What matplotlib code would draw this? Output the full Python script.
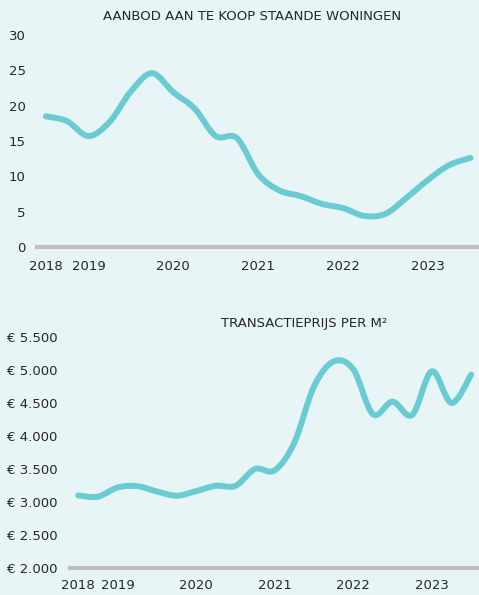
import matplotlib.pyplot as plt
import numpy as np
from matplotlib.path import Path
from matplotlib.patches import PathPatch

# Data (kwartalen, 2018 Q3 t/m 2023 Q3)
kwartaal = list(range(21))

aanbod = [18.5, 17.8, 15.7, 17.7, 22.0, 24.6, 21.9, 19.6, 15.7, 15.4, 10.3,
          8.0, 7.2, 6.1, 5.5, 4.4, 4.7, 7.0, 9.5, 11.6, 12.6]

prijs = [3100, 3080, 3220, 3240, 3160, 3095, 3165, 3245, 3245, 3500, 3480,
         3900, 4750, 5130, 5010, 4330, 4520, 4320, 4980, 4500, 4930]

jaar_pos = [0, 2, 6, 10, 14, 18]
jaar_lbl = ['2018', '2019', '2020', '2021', '2022', '2023']

aanbod_ticks = [0, 5, 10, 15, 20, 25, 30]
prijs_ticks = [2000, 2500, 3000, 3500, 4000, 4500, 5000, 5500]
prijs_lbl = ['€ 2.000', '€ 2.500', '€ 3.000', '€ 3.500',
             '€ 4.000', '€ 4.500', '€ 5.000', '€ 5.500']

bg = '#E8F5F7'
lijn = '#6BCBD2'
tekst = '#262626'


def smooth_path(x, y):
    # gladde lijn zoals Excel: Bezier door alle punten
    x = np.asarray(x, float)
    y = np.asarray(y, float)
    n = len(x)
    verts = [(x[0], y[0])]
    codes = [Path.MOVETO]
    for i in range(n - 1):
        i0 = max(i - 1, 0)
        i3 = min(i + 2, n - 1)
        c1 = (x[i] + (x[i + 1] - x[i0]) / 6, y[i] + (y[i + 1] - y[i0]) / 6)
        c2 = (x[i + 1] - (x[i3] - x[i]) / 6, y[i + 1] - (y[i3] - y[i]) / 6)
        verts += [c1, c2, (x[i + 1], y[i + 1])]
        codes += [Path.CURVE4] * 3
    return Path(verts, codes)


fig = plt.figure(figsize=(4.79, 5.95), dpi=100, facecolor=bg)

ax1 = fig.add_axes([37 / 479, 1 - 247 / 595, 1 - 37 / 479, (247 - 35) / 595])
ax2 = fig.add_axes([70 / 479, 1 - 568 / 595, 1 - 70 / 479, (568 - 337) / 595])

for ax in (ax1, ax2):
    ax.set_facecolor(bg)
    for s in ['top', 'right', 'left']:
        ax.spines[s].set_visible(False)
    ax.spines['bottom'].set_color('#BFBFBF')
    ax.spines['bottom'].set_linewidth(3)
    ax.spines['bottom'].set_zorder(1)
    ax.tick_params(length=0, labelsize=9.5, colors=tekst)
    ax.tick_params(axis='x', pad=9)
    ax.grid(axis='y', color='#F2F2F2', lw=1, zorder=0)
    ax.set_axisbelow(True)
    ax.set_xticks(jaar_pos)
    ax.set_xticklabels(jaar_lbl)
    ax.set_xlim(-0.42, 20.4)

# bovenste grafiek
ax1.add_patch(PathPatch(smooth_path(kwartaal, aanbod), fill=False,
                        edgecolor=lijn, lw=4.3, capstyle='round',
                        joinstyle='round', zorder=3))
ax1.set_ylim(0, 30)
ax1.set_yticks(aanbod_ticks)
ax1.tick_params(axis='y', pad=8)
fig.text(252 / 479, 1 - 17 / 595, 'AANBOD AAN TE KOOP STAANDE WONINGEN',
         ha='center', va='center', fontsize=9.5, color=tekst)

# onderste grafiek
ax2.add_patch(PathPatch(smooth_path(kwartaal, prijs), fill=False,
                        edgecolor=lijn, lw=4.3, capstyle='round',
                        joinstyle='round', zorder=3))
ax2.set_ylim(2000, 5500)
ax2.set_yticks(prijs_ticks)
ax2.set_yticklabels(prijs_lbl)
ax2.tick_params(axis='y', pad=9)
ax2.tick_params(axis='x', pad=8)
fig.text(304 / 479, 1 - 323 / 595, 'TRANSACTIEPRIJS PER M²',
         ha='center', va='center', fontsize=9.5, color=tekst)

fig.savefig('out.png', dpi=100, facecolor=bg)
